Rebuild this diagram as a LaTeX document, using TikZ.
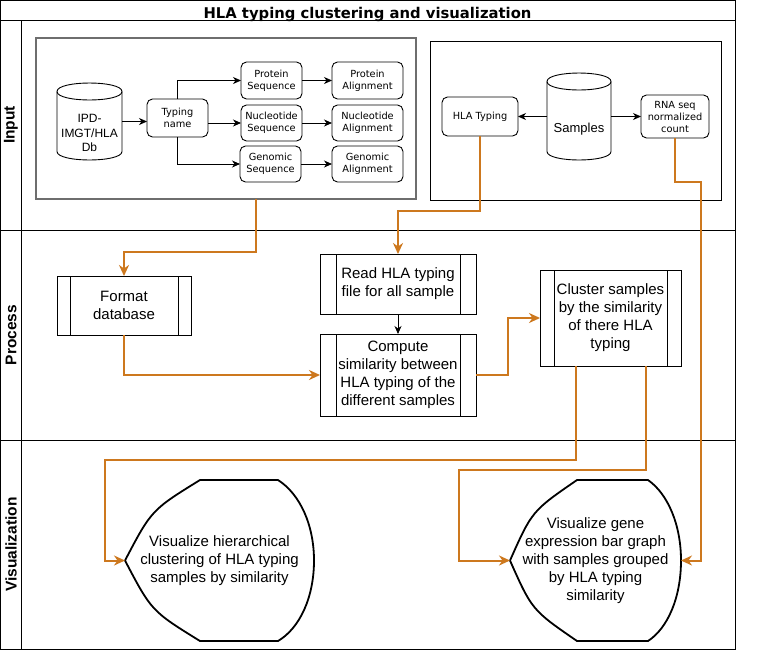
\documentclass[tikz,border=0pt]{standalone}
\usepackage{fontspec}
\setmainfont{Liberation Sans}
\newfontfamily\smallf{DejaVu Sans}
\usetikzlibrary{arrows.meta,calc}
\definecolor{orng}{RGB}{205,120,30}
\definecolor{gbord}{RGB}{110,110,110}
\begin{document}
\begin{tikzpicture}[x=1pt,y=-1pt,
  every node/.style={inner sep=0pt, outer sep=0pt},
  sbox/.style={draw, rounded corners=5.5pt, line width=0.9pt, align=center, font=\smallf\fontsize{9.8}{12}\selectfont},
  proc/.style={draw, line width=0.9pt, align=center, font=\fontsize{15}{18}\selectfont,
    path picture={\draw[line width=0.9pt] ([xshift=#1]path picture bounding box.north west) -- ([xshift=#1]path picture bounding box.south west);
                  \draw[line width=0.9pt] ([xshift=-#1]path picture bounding box.north east) -- ([xshift=-#1]path picture bounding box.south east);}},
  barrow/.style={-{Stealth[length=8pt,width=7pt,inset=2.5pt]}, line width=0.8pt},
  oarrow/.style={-{Stealth[length=11pt,width=10pt,inset=3.5pt]}, draw=orng, line width=2pt},
  lane/.style={font=\bfseries\fontsize{15.5}{18}\selectfont, rotate=90},
  vis/.style={align=center, font=\fontsize{15}{18}\selectfont},
  vshape/.style={line width=1.8pt},
  frame/.style={line width=0.9pt},
]
\useasboundingbox (0,0) rectangle (781,651);
\fill[white] (0,0) rectangle (781,651);

% frame and lanes
\draw[frame] (0,0) rectangle (735,649);
\draw[frame] (0,20) -- (735,20);
\draw[frame] (21,20) -- (21,649);
\draw[frame] (0,230) -- (735,230);
\draw[frame] (0,440) -- (735,440);
\node[font=\smallf\bfseries\fontsize{14.8}{18}\selectfont, anchor=base] (title) at (367.5,18) {HLA typing clustering and visualization};
\node[lane] (lin) at (11,125) {Input};
\node[lane] (lpr) at (11,335) {Process};
\node[lane] (lvi) at (11,544.5) {Visualization};

% input containers
\node[draw=gbord, line width=1.6pt, minimum width=380, minimum height=161] (in1) at (226,118.5) {};
\node[draw, line width=0.9pt, minimum width=291, minimum height=159] (in2) at (575.5,120.5) {};

% IPD cylinder
\node[minimum width=65, minimum height=77] (ipd) at (89.5,121.5) {};
\draw[line width=0.9pt] (57,91.5) .. controls (57,80.2) and (122,80.2) .. (122,91.5) -- (122,151.5) .. controls (122,162.8) and (57,162.8) .. (57,151.5) -- cycle;
\draw[line width=0.9pt] (57,91.5) .. controls (57,102.8) and (122,102.8) .. (122,91.5);
\node[align=center, font=\fontsize{12}{14.5}\selectfont] (ipdt) at (89.5,133) {IPD-\\IMGT/HLA\\Db};

% Samples cylinder
\node[minimum width=64, minimum height=87] (smp) at (579,116.5) {};
\draw[line width=0.9pt] (547,81.5) .. controls (547,70.2) and (611,70.2) .. (611,81.5) -- (611,151.5) .. controls (611,162.8) and (547,162.8) .. (547,151.5) -- cycle;
\draw[line width=0.9pt] (547,81.5) .. controls (547,92.8) and (611,92.8) .. (611,81.5);
\node[font=\fontsize{13}{15}\selectfont] (smpt) at (579,129) {Samples};

% small boxes
\node[sbox, minimum width=61, minimum height=38] (tn) at (177.5,118) {Typing\\name};
\node[sbox, minimum width=61, minimum height=37] (ps) at (271.5,80.5) {Protein\\Sequence};
\node[sbox, minimum width=61, minimum height=36] (ns) at (271.5,123) {Nucleotide\\Sequence};
\node[sbox, minimum width=61, minimum height=36] (gs) at (270.5,164) {Genomic\\Sequence};
\node[sbox, minimum width=71, minimum height=37] (pa) at (367.5,80.5) {Protein\\Alignment};
\node[sbox, minimum width=71, minimum height=36] (na) at (367.5,123) {Nucleotide\\Alignment};
\node[sbox, minimum width=71, minimum height=36] (ga) at (367.5,164) {Genomic\\Alignment};
\node[sbox, minimum width=76, minimum height=39] (hla) at (480,116.5) {HLA Typing};
\node[sbox, minimum width=68, minimum height=43] (rna) at (675,116.5) {RNA seq\\normalized\\count};

\draw[barrow] (ipd.east) -- (ipd.east -| tn.west);
\draw[barrow] (tn.north) |- (ps.west);
\draw[barrow] (tn.east |- ns.west) -- (ns.west);
\draw[barrow] (tn.south) |- (gs.west);
\draw[barrow] (ps.east) -- (pa.west);
\draw[barrow] (ns.east) -- (na.west);
\draw[barrow] (gs.east) -- (ga.west);
\draw[barrow] (smp.west |- hla.east) -- (hla.east);
\draw[barrow] (smp.east |- rna.west) -- (rna.west);

% process boxes
\node[proc=13pt, minimum width=134, minimum height=59] (fd) at (124,305.5) {Format\\database};
\node[proc=16pt, minimum width=156, minimum height=60] (rd) at (398,284) {Read HLA typing\\file for all sample};
\node[proc=16pt, minimum width=156, minimum height=82] (cp) at (398,375) {Compute\\similarity between\\HLA typing of the\\different samples};
\node[proc=14pt, minimum width=141, minimum height=96] (cl) at (610.5,318) {Cluster samples\\by the similarity\\of there HLA\\typing};
\draw[barrow] (rd.south) -- (cp.north);

% visualization shapes
\node[vis, minimum width=189, minimum height=161] (v1) at (219.5,560.5) {Visualize hierarchical\\clustering of HLA typing\\samples by similarity};
\node[vis, minimum width=171, minimum height=161] (v2) at (595.5,560.5) {Visualize gene\\expression bar graph\\with samples grouped\\by HLA typing\\similarity};
\draw[vshape] (125,560.5) .. controls (151.5,510) .. (200,480) -- (278,480) .. controls (300,494) and (314,525) .. (314,560.5) .. controls (314,597) and (300,628) .. (278,641) -- (200,641) .. controls (151.5,611) .. (125,560.5) -- cycle;
\draw[vshape] (510,560.5) .. controls (532,511) .. (577,480) -- (648,480) .. controls (668,494) and (681,525) .. (681,560.5) .. controls (681,597) and (668,628) .. (648,641) -- (577,641) .. controls (532,610) .. (510,560.5) -- cycle;

% orange connectors
\coordinate (c1) at (256,199);
\coordinate (c6) at ($(cl.south west)+(36,0)$);
\coordinate (c7) at ($(cl.south west)+(106,0)$);
\draw[oarrow] (c1) -- ++(0,53) -| (fd.north);
\draw[oarrow] (hla.south) -- ++(0,75) -| (rd.north);
\draw[oarrow] (rna.south) -- ++(0,44) -- ++(26,0) |- (v2.east);
\draw[oarrow] (fd.south) |- (cp.west);
\draw[oarrow] (cp.east) -- ++(32,0) |- (cl.west);
\draw[oarrow] (c6) -- ++(0,94) -- ++(-471,0) |- (v1.west);
\draw[oarrow] (c7) -- ++(0,104) -- ++(-187,0) |- (v2.west);
\end{tikzpicture}
\end{document}
